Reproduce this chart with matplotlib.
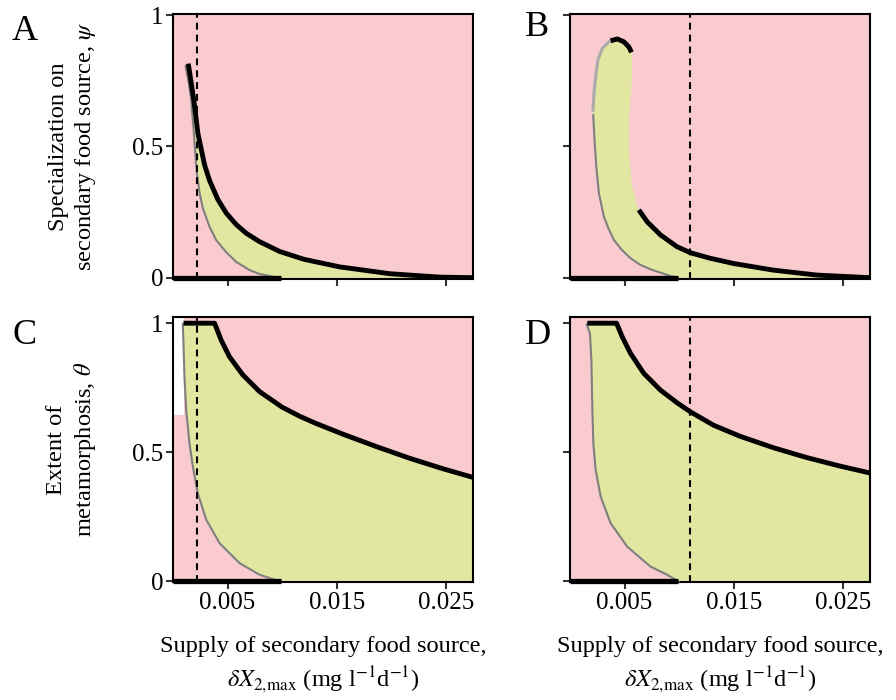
import numpy as np
import matplotlib
matplotlib.use('Agg')
import matplotlib.pyplot as plt

plt.rcParams['font.family'] = ['Liberation Serif', 'DejaVu Serif']
plt.rcParams['mathtext.fontset'] = 'stix'

pink = '#F9CBCF'
green = '#E1E6A0'
dark_grey = '#7F7F7F'
light_grey = '#ABABAB'

x_max = 0.0275
floor_end = 0.0099   # thick black segment lying on psi/theta = 0
x_ticks = [0.005, 0.015, 0.025]
x_tick_labels = ['0.005', '0.015', '0.025']
y_ticks = [0, 0.5, 1]
y_tick_labels = ['0', '0.5', '1']

# ---- Panel A: specialization, low branch ----
a_upper_x = [0.0014, 0.00191, 0.00228, 0.00289, 0.00335, 0.00411, 0.00488, 0.0058, 0.00672, 0.00794,
             0.00977, 0.0120, 0.0153, 0.0199, 0.0245, 0.0275]
a_upper_y = [0.815, 0.676, 0.550, 0.430, 0.370, 0.298, 0.246, 0.202, 0.169, 0.137,
             0.100, 0.070, 0.041, 0.015, 0.002, 0.0]
a_lower_x = [0.00115, 0.00145, 0.00167, 0.00191, 0.00218, 0.00245, 0.00273, 0.00335, 0.00396, 0.00488,
             0.0058, 0.00702, 0.00794, 0.00916, 0.00977]
a_lower_y = [0.805, 0.740, 0.676, 0.550, 0.400, 0.320, 0.265, 0.194, 0.143, 0.097,
             0.060, 0.029, 0.014, 0.004, 0.0]
a_dash = 0.00216

# ---- Panel B: specialization, folded branch ----
b_light_x = [0.0021, 0.0022, 0.00235, 0.00256, 0.00296, 0.00357, 0.00372]
b_light_y = [0.632, 0.702, 0.765, 0.829, 0.873, 0.898, 0.902]
b_cap_x = [0.00372, 0.00433, 0.00494, 0.00539, 0.00564]
b_cap_y = [0.902, 0.909, 0.898, 0.879, 0.858]
b_edge_x = [0.00564, 0.0057, 0.00564, 0.00546, 0.00539, 0.00546, 0.0057, 0.00616, 0.00631]
b_edge_y = [0.858, 0.803, 0.727, 0.638, 0.550, 0.448, 0.346, 0.270, 0.258]
b_upper_x = [0.00631, 0.00707, 0.00829, 0.00981, 0.01103, 0.01285, 0.0150, 0.0186, 0.0226, 0.0275]
b_upper_y = [0.258, 0.213, 0.163, 0.118, 0.095, 0.074, 0.054, 0.029, 0.010, 0.0]
b_lower_x = [0.00213, 0.00225, 0.00241, 0.00265, 0.00311, 0.0035, 0.00402, 0.0047, 0.00555, 0.0064,
             0.00737, 0.0092, 0.00987]
b_lower_y = [0.619, 0.524, 0.423, 0.321, 0.232, 0.190, 0.144, 0.108, 0.074, 0.050,
             0.032, 0.0065, 0.0]
b_dash = 0.0110

# ---- Panel C: metamorphosis, low branch ----
c_upper_x = [0.00096, 0.00381, 0.00442, 0.00518, 0.0064, 0.00794, 0.0100, 0.0116, 0.0131, 0.0156,
             0.0186, 0.0217, 0.0247, 0.0275]
c_upper_y = [1.0, 1.0, 0.934, 0.870, 0.800, 0.735, 0.675, 0.640, 0.612, 0.570,
             0.523, 0.477, 0.437, 0.403]
c_lower_x = [0.0009, 0.00096, 0.00105, 0.00121, 0.00151, 0.00182, 0.00227, 0.00305, 0.00427, 0.0061,
             0.00794, 0.0098]
c_lower_y = [0.996, 0.921, 0.792, 0.664, 0.535, 0.445, 0.342, 0.239, 0.148, 0.071,
             0.026, 0.0]
c_dash = 0.00216
c_white_x = 0.00105
c_white_y = 0.645

# ---- Panel D: metamorphosis, folded branch ----
d_upper_x = [0.00159, 0.00427, 0.00479, 0.00555, 0.00676, 0.00829, 0.00981, 0.01103, 0.01316, 0.0156,
             0.01864, 0.02168, 0.02473, 0.0275]
d_upper_y = [1.0, 1.0, 0.947, 0.883, 0.806, 0.741, 0.692, 0.657, 0.605, 0.562,
             0.518, 0.480, 0.447, 0.420]
d_lower_x = [0.00153, 0.00183, 0.00196, 0.00205, 0.00214, 0.00235, 0.00281, 0.00372, 0.00524, 0.00737,
             0.0089, 0.00996]
d_lower_y = [0.996, 0.960, 0.857, 0.664, 0.535, 0.432, 0.329, 0.226, 0.135, 0.058,
             0.026, 0.0]
d_dash = 0.0110

fig = plt.figure(figsize=(8.96, 7.0), dpi=100)

ax_a = fig.add_axes([173/896, 1-279/700, 300/896, 265/700])
ax_b = fig.add_axes([570/896, 1-279/700, 300/896, 265/700])
ax_c = fig.add_axes([173/896, 1-582/700, 300/896, 265/700])
ax_d = fig.add_axes([570/896, 1-582/700, 300/896, 265/700])


def style_axes(ax, top_row, left_col):
    ax.set_facecolor(pink)
    ax.set_xlim(0, x_max)
    if top_row:
        ax.set_ylim(-0.005, 1.004)
    else:
        ax.set_ylim(-0.002, 1.024)
    ax.set_xticks(x_ticks)
    ax.set_xticklabels(x_tick_labels)
    ax.set_yticks(y_ticks)
    ax.set_yticklabels(y_tick_labels)
    ax.tick_params(direction='out', length=5, width=1.5, color='#333333',
                   labelsize=18, pad=2,
                   labelbottom=not top_row, labelleft=left_col)
    for s in ax.spines.values():
        s.set_linewidth(1.5)
        s.set_color('black')
    # thick black segment on the axis
    ax.plot([0, floor_end], [0, 0], color='black', lw=3.8,
            solid_capstyle='butt', clip_on=False, zorder=5)


def draw_dash(ax, x):
    ax.axvline(x, color='black', lw=1.5, dashes=(3.3, 2.4), zorder=6)


# Panel A
style_axes(ax_a, True, True)
ax_a.fill(a_lower_x + [x_max] + a_upper_x[::-1], a_lower_y + [0] + a_upper_y[::-1],
          color=green, lw=0, zorder=2)
ax_a.plot(a_lower_x, a_lower_y, color=dark_grey, lw=1.5, zorder=3)
ax_a.plot(a_upper_x, a_upper_y, color='black', lw=3.5, solid_capstyle='butt', zorder=4)
draw_dash(ax_a, a_dash)

# Panel B
style_axes(ax_b, True, False)
bx = b_light_x + b_cap_x + b_edge_x + b_upper_x + [x_max] + b_lower_x[::-1]
by = b_light_y + b_cap_y + b_edge_y + b_upper_y + [0] + b_lower_y[::-1]
ax_b.fill(bx, by, color=green, lw=0, zorder=2)
ax_b.plot(b_light_x, b_light_y, color=light_grey, lw=2.2, solid_capstyle='butt', zorder=3)
ax_b.plot(b_lower_x, b_lower_y, color=dark_grey, lw=1.5, zorder=3)
ax_b.plot(b_cap_x, b_cap_y, color='black', lw=3.5, solid_capstyle='butt', zorder=4)
ax_b.plot(b_upper_x, b_upper_y, color='black', lw=3.5, solid_capstyle='butt', zorder=4)
draw_dash(ax_b, b_dash)

# Panel C
style_axes(ax_c, False, True)
ax_c.fill_between([0, c_white_x], c_white_y, 1.024, color='white', lw=0, zorder=1)
ax_c.fill(c_lower_x + [x_max] + c_upper_x[::-1], c_lower_y + [0] + c_upper_y[::-1],
          color=green, lw=0, zorder=2)
ax_c.plot(c_lower_x, c_lower_y, color=dark_grey, lw=1.5, zorder=3)
ax_c.plot(c_upper_x, c_upper_y, color='black', lw=3.5, solid_capstyle='butt', zorder=4)
draw_dash(ax_c, c_dash)

# Panel D
style_axes(ax_d, False, False)
ax_d.fill(d_lower_x + [x_max] + d_upper_x[::-1], d_lower_y + [0] + d_upper_y[::-1],
          color=green, lw=0, zorder=2)
ax_d.plot(d_lower_x, d_lower_y, color=dark_grey, lw=1.5, zorder=3)
ax_d.plot(d_upper_x, d_upper_y, color='black', lw=3.5, solid_capstyle='butt', zorder=4)
draw_dash(ax_d, d_dash)

# Axis labels
ax_a.set_ylabel('Specialization on\nsecondary food source, $\\psi$', fontsize=17.6, linespacing=1.25)
ax_a.yaxis.set_label_coords(-0.25, 0.5)
ax_c.set_ylabel('Extent of\nmetamorphosis, $\\theta$', fontsize=17.6, linespacing=1.25)
ax_c.yaxis.set_label_coords(-0.25, 0.5)

xlab = 'Supply of secondary food source,\n$\\delta X_{2,\\!\\mathrm{max}}$ (mg l$^{-1}$d$^{-1}$)'
for ax in (ax_c, ax_d):
    ax.set_xlabel(xlab, fontsize=17.6, linespacing=1.3)
    ax.xaxis.set_label_coords(0.5, -0.205)

# Panel letters
for lab, px, py in [('A', 12, 32), ('B', 525, 27), ('C', 12, 335), ('D', 525, 335)]:
    fig.text(px/896, 1-py/700, lab, fontsize=26, ha='left', va='center')

plt.savefig('out.png', dpi=100)
